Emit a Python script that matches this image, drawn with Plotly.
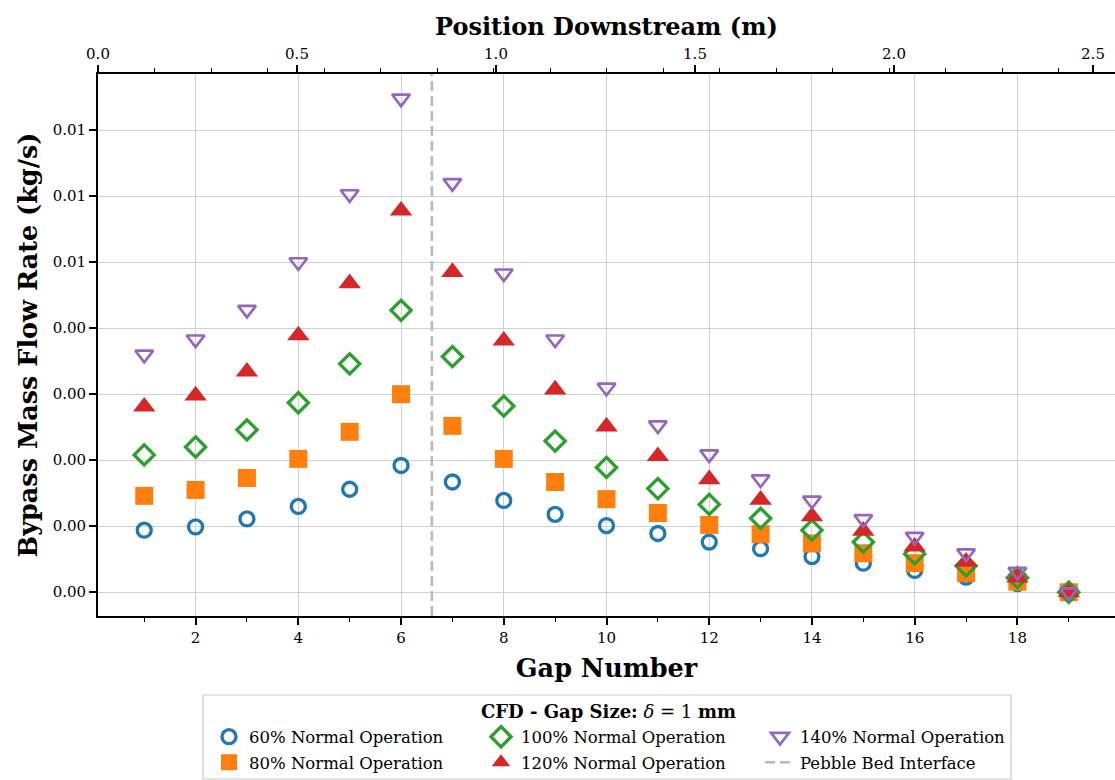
import plotly.graph_objects as go

# Gap numbers along the reflector block
gaps = list(range(1, 20))

# Bypass mass flow rate through each gap (kg/s) for each operating level
flow_60 = [0.00094, 0.00099, 0.00111, 0.00130, 0.00156, 0.00192, 0.00167, 0.00139, 0.00118, 0.00101,
           0.00089, 0.00076, 0.00066, 0.00054, 0.00044, 0.00033, 0.00023, 0.00013, 0.00000]
flow_80 = [0.00146, 0.00155, 0.00173, 0.00202, 0.00243, 0.00300, 0.00252, 0.00202, 0.00167, 0.00141,
           0.00120, 0.00102, 0.00088, 0.00074, 0.00059, 0.00044, 0.00029, 0.00016, 0.00000]
flow_100 = [0.00208, 0.00220, 0.00246, 0.00287, 0.00346, 0.00427, 0.00357, 0.00282, 0.00229, 0.00189,
            0.00157, 0.00133, 0.00112, 0.00094, 0.00076, 0.00058, 0.00040, 0.00022, 0.00000]
flow_120 = [0.00281, 0.00298, 0.00334, 0.00389, 0.00468, 0.00578, 0.00485, 0.00381, 0.00307, 0.00251,
            0.00206, 0.00171, 0.00140, 0.00115, 0.00093, 0.00069, 0.00046, 0.00022, 0.00000]
flow_140 = [0.00360, 0.00383, 0.00428, 0.00500, 0.00603, 0.00748, 0.00620, 0.00483, 0.00383, 0.00310,
            0.00253, 0.00209, 0.00171, 0.00139, 0.00111, 0.00084, 0.00059, 0.00031, 0.00000]

series_names = ["60% Normal Operation", "80% Normal Operation", "100% Normal Operation",
                "120% Normal Operation", "140% Normal Operation"]

# Location of the pebble bed interface, in gap-number units
pebble_interface_gap = 6.6

# Axis ticks
y_ticks = [0.000, 0.001, 0.002, 0.003, 0.004, 0.005, 0.006, 0.007]
y_ticklabels = [f"{v:.2f}" for v in y_ticks]
pos_ticks = [0.0, 0.5, 1.0, 1.5, 2.0, 2.5]
pos_ticklabels = [f"{v:.1f}" for v in pos_ticks]
pos_minor_step = 0.14196

# ---------------------------------------------------------------- layout geometry
W, H = 1115, 780
ML, MR, MT, MB = 98, 0, 74, 164
PW, PH = W - ML - MR, H - MT - MB


def px_x(px):
    return (px - ML) / PW


def px_y(py):
    return (H - MB - py) / PH


FONT = "DejaVu Serif"
BLUE, ORANGE, GREEN, RED, PURPLE = "#1f77b4", "#ff7f0e", "#2ca02c", "#d62728", "#9467bd"
GRID = "#d0d0d0"

styles = [
    dict(symbol="circle-open", size=14, color=BLUE, line=dict(width=3.3, color=BLUE)),
    dict(symbol="square", size=18, color=ORANGE, line=dict(width=0)),
    dict(symbol="diamond-open", size=15.5, color=GREEN, line=dict(width=3.3, color=GREEN)),
    dict(symbol="triangle-up", size=19.5, color=RED, line=dict(width=0)),
    dict(symbol="triangle-down-open", size=15.5, color=PURPLE, line=dict(width=2.7, color=PURPLE)),
]
legend_ids = ["legend", "legend2", "legend3", "legend4", "legend5"]

fig = go.Figure()
for name, vals, st, lg in zip(series_names, [flow_60, flow_80, flow_100, flow_120, flow_140], styles, legend_ids):
    fig.add_trace(go.Scatter(x=gaps, y=vals, mode="markers", name=name, marker=st, legend=lg,
                             showlegend=True, cliponaxis=False))

# empty trace that carries the position (m) axis along the top
fig.add_trace(go.Scatter(x=pos_ticks, y=[None] * len(pos_ticks), xaxis="x2", mode="markers",
                         showlegend=False, hoverinfo="skip"))

# pebble bed interface
fig.add_shape(type="line", xref="x", yref="paper", x0=pebble_interface_gap, x1=pebble_interface_gap,
              y0=0, y1=1, line=dict(color="#bababa", width=2.6, dash="10px,5px"),
              showlegend=True, name="Pebble Bed Interface", legend="legend6")

# legend frame and title
fig.add_shape(type="rect", xref="paper", yref="paper", x0=px_x(203), x1=px_x(1011),
              y0=px_y(695), y1=px_y(779), line=dict(color="#cccccc", width=1.2),
              fillcolor="white", layer="below")
fig.add_annotation(xref="paper", yref="paper", x=px_x(608), y=px_y(711), showarrow=False,
                   text="<b>CFD - Gap Size:</b> <i>δ</i> = 1 <b>mm</b>",
                   font=dict(family=FONT, size=18, color="black"), xanchor="center", yanchor="middle")

legend_font = dict(family=FONT, size=16.5, color="black")
col_marker_px = [229, 501, 780]
row_px = [737, 763]
legend_slots = {
    "legend": (0, 0), "legend2": (0, 1), "legend3": (1, 0),
    "legend4": (1, 1), "legend5": (2, 0), "legend6": (2, 1),
}
for lg, (c, r) in legend_slots.items():
    fig.update_layout({lg: dict(x=px_x(col_marker_px[c] - 20), y=px_y(row_px[r]), xanchor="left",
                                yanchor="middle", bgcolor="rgba(0,0,0,0)", borderwidth=0,
                                font=legend_font, orientation="v")})

axis_common = dict(showline=True, linecolor="black", linewidth=1.8, ticks="outside",
                   tickcolor="black", tickwidth=1.5, ticklen=7,
                   tickfont=dict(family=FONT, size=15, color="black"), zeroline=False)
title_font = dict(family=FONT, size=25.5, color="black")

fig.update_layout(
    width=W, height=H,
    margin=dict(l=ML, r=MR, t=MT, b=MB),
    paper_bgcolor="white", plot_bgcolor="white",
    font=dict(family=FONT, color="black"),
    showlegend=True,
    xaxis=dict(range=[0.1, 19.9], tickmode="linear", tick0=0, dtick=2,
               showgrid=True, gridcolor=GRID, gridwidth=1.4,
               minor=dict(tick0=1, dtick=1, ticks="outside", ticklen=4, tickwidth=1.2,
                          tickcolor="black", showgrid=False),
               title=dict(text="<b>Gap Number</b>", font=title_font, standoff=13),
               **axis_common),
    xaxis2=dict(range=[0, 18 * pos_minor_step], overlaying="x", side="top", anchor="y",
                tickmode="array", tickvals=pos_ticks, ticktext=pos_ticklabels, showgrid=False,
                minor=dict(tick0=0, dtick=pos_minor_step, ticks="outside", ticklen=4, tickwidth=1.2,
                           tickcolor="black", showgrid=False),
                title=dict(text="<b>Position Downstream (m)</b>",
                           font=dict(family=FONT, size=24, color="black"), standoff=3),
                **axis_common),
    yaxis=dict(range=[-0.00036, 0.00785], tickmode="array", tickvals=y_ticks, ticktext=y_ticklabels,
               showgrid=True, gridcolor=GRID, gridwidth=1.4,
               title=dict(text="<b>Bypass Mass Flow Rate (kg/s)</b>", font=title_font, standoff=8),
               **axis_common),
)

fig.write_html("out.html")
